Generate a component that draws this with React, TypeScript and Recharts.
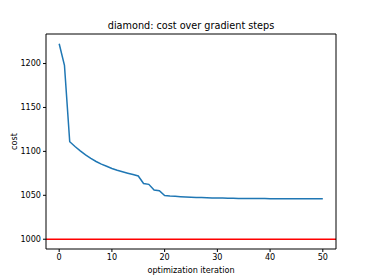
import React from "react";
import {
  LineChart,
  Line,
  XAxis,
  YAxis,
  ReferenceLine,
  Label,
} from "recharts";

const iterations = [
  0, 1, 2, 3, 4, 5, 6, 7, 8, 9, 10, 11, 12, 13, 14, 15, 16, 17, 18, 19, 20,
  21, 22, 23, 24, 25, 26, 27, 28, 29, 30, 31, 32, 33, 34, 35, 36, 37, 38, 39,
  40, 41, 42, 43, 44, 45, 46, 47, 48, 49, 50,
];
const costs = [
  1222.5, 1198, 1111, 1105.5, 1100.5, 1096, 1092, 1088.5, 1085.5, 1083, 1080.5,
  1078.5, 1076.8, 1075.2, 1073.6, 1072, 1063.5, 1062.5, 1056, 1055.3, 1049.8,
  1049.2, 1048.8, 1048.4, 1048.1, 1047.8, 1047.6, 1047.4, 1047.2, 1047, 1046.9,
  1046.8, 1046.7, 1046.6, 1046.5, 1046.4, 1046.4, 1046.3, 1046.3, 1046.3,
  1046.2, 1046.2, 1046.2, 1046.2, 1046.1, 1046.1, 1046.1, 1046.1, 1046.1,
  1046.1, 1046.1,
];
const targetCost = 1000;
const xTicks = [0, 10, 20, 30, 40, 50];
const yTicks = [1000, 1050, 1100, 1150, 1200];

const data = iterations.map((it, i) => ({ it, cost: costs[i] }));

const xMin = Math.min(...iterations);
const xMax = Math.max(...iterations);
const xPad = (xMax - xMin) * 0.05;
const yLo = Math.min(...costs, targetCost);
const yHi = Math.max(...costs);
const yPad = (yHi - yLo) * 0.05;

const font = "DejaVu Sans, sans-serif";
const tickStyle = { fontSize: 8.1, fill: "#000", fontFamily: font };

export default function App() {
  return (
    <div
      style={{
        position: "absolute",
        left: 0,
        top: 0,
        width: 374,
        height: 280,
        background: "#fff",
        fontFamily: font,
      }}
    >
      <div
        style={{
          position: "absolute",
          left: 46,
          width: 290,
          top: 20,
          textAlign: "center",
          fontSize: 9.7,
          lineHeight: "12px",
          color: "#000",
        }}
      >
        diamond: cost over gradient steps
      </div>
      <LineChart
        width={374}
        height={280}
        data={data}
        margin={{ top: 33, right: 37, bottom: 0, left: 0 }}
      >
        <XAxis
          dataKey="it"
          type="number"
          domain={[xMin - xPad, xMax + xPad]}
          ticks={xTicks}
          height={31}
          tickSize={3}
          tickMargin={2}
          tick={tickStyle}
          stroke="#000"
          interval={0}
        >
          <Label
            value="optimization iteration"
            position="insideBottom"
            offset={7}
            style={{ fontSize: 8.1, fill: "#000", fontFamily: font }}
          />
        </XAxis>
        <XAxis
          xAxisId="top"
          dataKey="it"
          type="number"
          orientation="top"
          domain={[xMin - xPad, xMax + xPad]}
          tick={false}
          tickLine={false}
          height={1}
          stroke="#000"
        />
        <YAxis
          type="number"
          domain={[yLo - yPad, yHi + yPad]}
          ticks={yTicks}
          width={46}
          tickSize={3}
          tickMargin={2}
          tick={tickStyle}
          stroke="#000"
          interval={0}
        >
          <Label
            value="cost"
            angle={-90}
            position="insideLeft"
            offset={14}
            style={{
              fontSize: 8.1,
              fill: "#000",
              fontFamily: font,
              textAnchor: "middle",
            }}
          />
        </YAxis>
        <YAxis
          yAxisId="right"
          type="number"
          orientation="right"
          domain={[yLo - yPad, yHi + yPad]}
          tick={false}
          tickLine={false}
          width={1}
          stroke="#000"
        />
        <ReferenceLine y={targetCost} stroke="#ff0000" strokeWidth={1.5} />
        <Line
          type="linear"
          dataKey="cost"
          stroke="#1f77b4"
          strokeWidth={1.5}
          dot={false}
          isAnimationActive={false}
        />
      </LineChart>
    </div>
  );
}
